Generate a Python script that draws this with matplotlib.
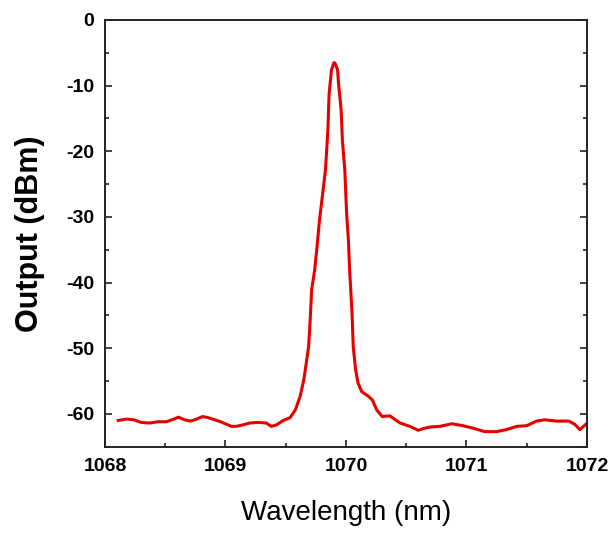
import matplotlib
matplotlib.use("Agg")
import matplotlib.pyplot as plt
from matplotlib.ticker import MultipleLocator

plt.rcParams['font.family'] = ['Liberation Sans', 'DejaVu Sans']
plt.rcParams['axes.unicode_minus'] = False

# spectrum
wavelength = [1068.11, 1068.18, 1068.24, 1068.30, 1068.37, 1068.44, 1068.51, 1068.57,
              1068.61, 1068.66, 1068.71, 1068.76, 1068.81, 1068.86, 1068.91, 1068.96,
              1069.01, 1069.05, 1069.09, 1069.14, 1069.20, 1069.27, 1069.34, 1069.38,
              1069.42, 1069.48, 1069.535, 1069.58, 1069.62, 1069.65, 1069.67, 1069.69,
              1069.70, 1069.715, 1069.74, 1069.76, 1069.78, 1069.81, 1069.83, 1069.85,
              1069.86, 1069.88, 1069.90, 1069.91, 1069.93, 1069.94, 1069.96, 1069.97,
              1069.99, 1070.005, 1070.02, 1070.03, 1070.05, 1070.06, 1070.08, 1070.10,
              1070.13, 1070.185, 1070.22, 1070.255, 1070.30, 1070.365, 1070.41, 1070.45,
              1070.53, 1070.60, 1070.65, 1070.70, 1070.78, 1070.88, 1070.97, 1071.06,
              1071.15, 1071.25, 1071.33, 1071.42, 1071.50, 1071.58, 1071.65, 1071.75,
              1071.85, 1071.90, 1071.94, 1071.99]
output_dbm = [-61.0, -60.8, -60.9, -61.3, -61.4, -61.2, -61.2, -60.8,
              -60.5, -60.9, -61.1, -60.8, -60.4, -60.6, -60.9, -61.2,
              -61.6, -61.9, -61.9, -61.7, -61.4, -61.3, -61.4, -61.9,
              -61.7, -61.0, -60.6, -59.4, -57.3, -54.8, -52.3, -49.7,
              -46.7, -41.1, -38.1, -34.5, -30.5, -25.9, -22.8, -16.7,
              -11.2, -7.6, -6.5, -6.6, -7.6, -10.1, -13.7, -18.3,
              -22.8, -29.4, -33.5, -38.0, -44.6, -49.7, -53.3, -55.3,
              -56.6, -57.3, -57.9, -59.4, -60.4, -60.3, -60.9, -61.4,
              -61.9, -62.5, -62.2, -62.0, -61.9, -61.5, -61.8, -62.2,
              -62.7, -62.7, -62.4, -61.9, -61.8, -61.1, -60.9, -61.1,
              -61.1, -61.6, -62.4, -61.6]

fig = plt.figure(figsize=(6.14, 5.36), dpi=100)
ax = fig.add_axes([0.171, 0.1666, 0.785, 0.7961])

ax.plot(wavelength, output_dbm, color='#e60000', lw=2.2)

ax.set_xlim(1068, 1072)
ax.set_ylim(-65, 0)
ax.xaxis.set_major_locator(MultipleLocator(1))
ax.xaxis.set_minor_locator(MultipleLocator(0.5))
ax.yaxis.set_major_locator(MultipleLocator(10))
ax.yaxis.set_minor_locator(MultipleLocator(5))
ax.xaxis.set_major_formatter(plt.FormatStrFormatter('%d'))
ax.yaxis.set_major_formatter(plt.FormatStrFormatter('%d'))

ax.tick_params(which='both', direction='in', left=True, right=True, bottom=True, top=False,
               color='#222222', width=1.2)
ax.tick_params(which='major', length=5, labelsize=14, pad=8)
ax.tick_params(which='minor', length=3)
for lab in ax.get_xticklabels() + ax.get_yticklabels():
    lab.set_fontweight('bold')

for sp in ax.spines.values():
    sp.set_linewidth(1.4)
    sp.set_color('#222222')

ax.set_xlabel("Wavelength (nm)", fontsize=20, va='center')
ax.xaxis.set_label_coords(0.5, -0.155)
ax.set_ylabel("Output (dBm)", fontsize=22, fontweight='bold', va='center')
ax.yaxis.set_label_coords(-0.156, 0.5)

fig.savefig("out.png", dpi=100)
